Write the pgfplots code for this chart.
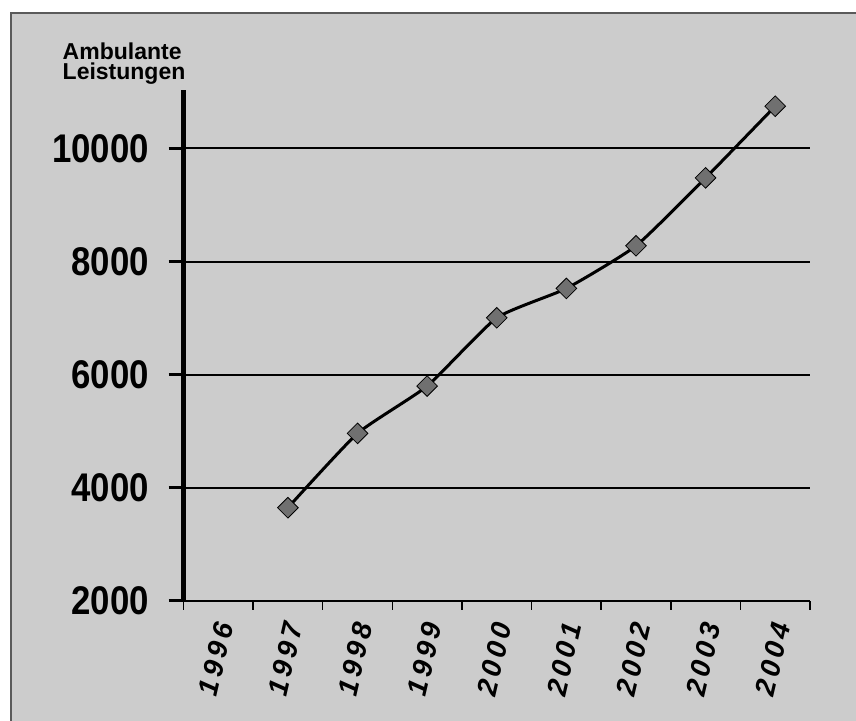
\documentclass[border=0pt]{standalone}
\usepackage{fontspec}
\setmainfont{Liberation Sans}
\newfontfamily\narrowsans[FakeStretch=0.87]{Liberation Sans}
\newfontfamily\yearsans[LetterSpace=14]{Liberation Sans}
\usepackage{pgfplots}
\pgfplotsset{compat=1.18}

\definecolor{panelgray}{RGB}{204,204,204}
\definecolor{framegray}{RGB}{90,90,90}
\definecolor{markgray}{RGB}{112,112,112}

\begin{document}
\begin{tikzpicture}[x=1pt,y=1pt]
  \useasboundingbox (0,0) rectangle (856,720);
  \fill[white] (0,0) rectangle (856,720);
  % chart panel, running past the right and bottom edges
  \fill[panelgray] (11,-20) rectangle (880,707);
  \draw[framegray, line width=2pt] (11,-20) -- (11,707) -- (880,707);

  \node[anchor=north west, inner sep=0pt, align=left,
        font=\fontsize{23}{20}\selectfont\bfseries]
    at (62.5,677) {Ambulante\\Leistungen};

  \begin{axis}[
    at={(183.5pt,119.3pt)}, anchor=south west,
    scale only axis,
    width=626.5pt, height=511pt,
    xmin=-0.5, xmax=8.5,
    ymin=2000, ymax=11040,
    axis x line=bottom, axis y line=left,
    axis line style={-},
    x axis line style={line width=2pt},
    y axis line style={line width=5pt},
    xtick={-0.5,0.5,...,8.5},
    x tick label as interval,
    xticklabels={1996,1997,1998,1999,2000,2001,2002,2003,2004},
    ytick={2000,4000,6000,8000,10000},
    tick align=outside,
    xtick style={black, line width=1.5pt, /pgfplots/major tick length=9pt},
    ytick style={black, line width=3pt, /pgfplots/major tick length=15pt},
    ymajorgrids,
    major grid style={black, line width=2pt},
    scaled y ticks=false,
    /pgf/number format/assume math mode=true,
    yticklabel={\pgfmathprintnumber[fixed,1000 sep={}]{\tick}},
    yticklabel style={font=\narrowsans\fontsize{40}{40}\selectfont\bfseries,
                      inner sep=0pt, xshift=-30pt},
    xticklabel style={font=\yearsans\fontsize{28}{28}\selectfont\bfseries\itshape,
                      xshift=6pt, yshift=-18pt,
                      rotate=77, anchor=east, inner sep=0pt},
    clip=false,
  ]
    \addplot[black, line width=3pt, smooth, tension=0.3,
             mark=square*, mark size=7.3pt,
             mark options={rotate=45, fill=markgray, draw=black, line width=0.8pt}]
      coordinates {
        (1,3645) (2,4960) (3,5797) (4,7004)
        (5,7524) (6,8278) (7,9480) (8,10748)
      };
  \end{axis}
\end{tikzpicture}
\end{document}
